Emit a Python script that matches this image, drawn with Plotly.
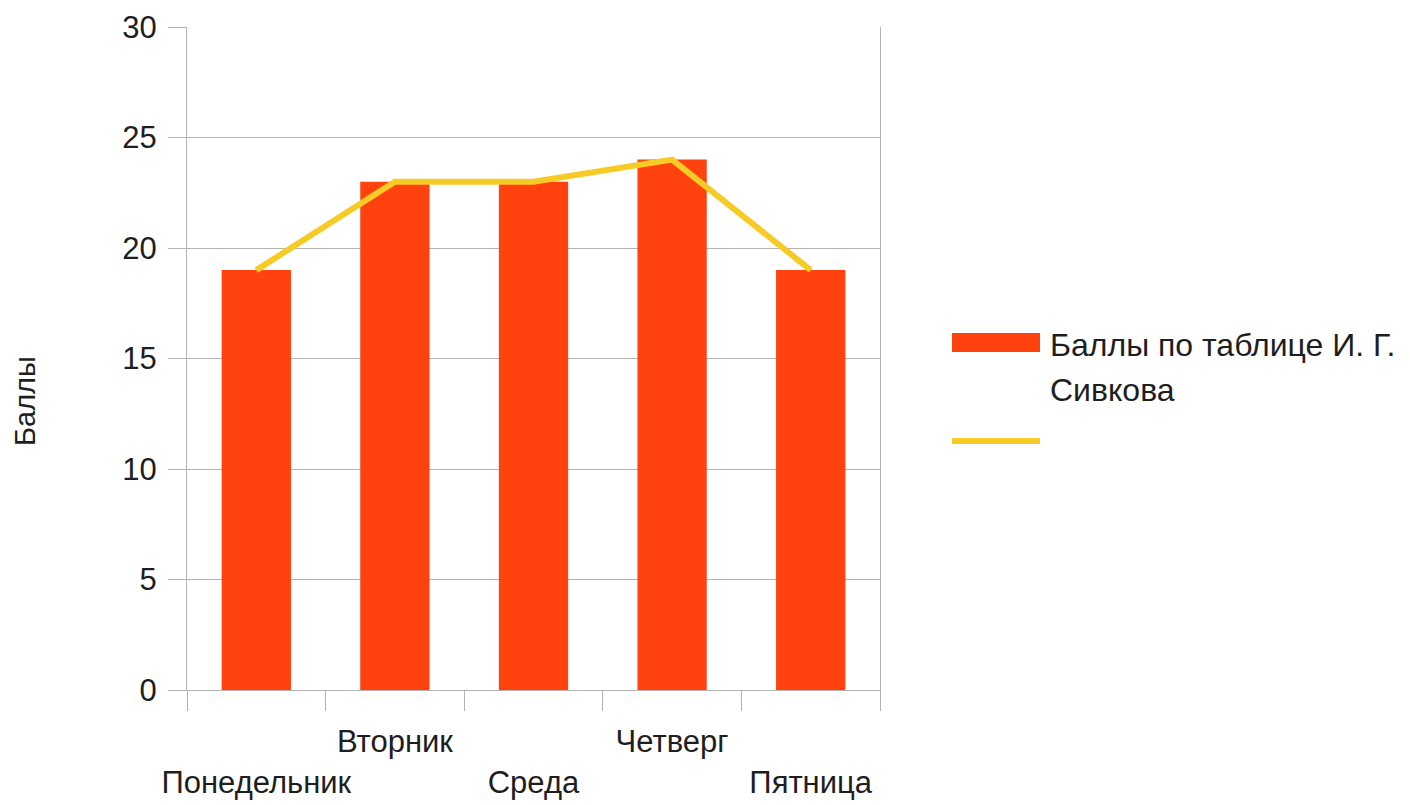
import plotly.graph_objects as go

# Days of the week and score values
days = ["Понедельник", "Вторник", "Среда", "Четверг", "Пятница"]
scores = [19, 23, 23, 24, 19]
trend = [19, 23, 23, 24, 19]
legend_lines = ["Баллы по таблице И. Г.", "Сивкова"]
y_ticks = [0, 5, 10, 15, 20, 25, 30]

BAR_COLOR = "#FF420E"
LINE_COLOR = "#F7CB25"
TEXT_COLOR = "#1E1E1E"
GRID_COLOR = "#B3B3B3"
FONT = "Liberation Sans, Arial, sans-serif"

W, H = 1410, 805
L, R, T, B = 187, 530, 27, 115
plot_w = W - L - R
plot_h = H - T - B

# Staggered category labels: every second label sits on a lower row
tick_text = [d if i % 2 else "<br>" + d for i, d in enumerate(days)]

fig = go.Figure()
fig.add_trace(go.Bar(
    x=days, y=scores, width=0.5, marker=dict(color=BAR_COLOR, line=dict(width=0)),
    name=" ".join(legend_lines), showlegend=False,
))
fig.add_trace(go.Scatter(
    x=days, y=trend, mode="lines", line=dict(color=LINE_COLOR, width=6),
    name="", showlegend=False,
))

def px_to_paper_x(px):
    return (px - L) / plot_w

def px_to_paper_y(py):
    return (H - B - py) / plot_h

# Legend drawn beside the plot
shapes = [
    dict(type="rect", xref="paper", yref="paper",
         x0=px_to_paper_x(952), x1=px_to_paper_x(1040),
         y0=px_to_paper_y(352), y1=px_to_paper_y(333),
         fillcolor=BAR_COLOR, line=dict(width=0)),
    dict(type="line", xref="paper", yref="paper",
         x0=px_to_paper_x(952), x1=px_to_paper_x(1040),
         y0=px_to_paper_y(441), y1=px_to_paper_y(441),
         line=dict(color=LINE_COLOR, width=6)),
]
annotations = [
    dict(xref="paper", yref="paper", x=px_to_paper_x(1048), y=px_to_paper_y(yc),
         xanchor="left", yanchor="middle", align="left", showarrow=False,
         text=t, font=dict(size=32, color=TEXT_COLOR, family=FONT))
    for t, yc in zip(legend_lines, [345, 390])
]
# Vertical axis title, centred on the figure height
annotations.append(dict(
    xref="paper", yref="paper", x=px_to_paper_x(25), y=px_to_paper_y(401),
    xanchor="center", yanchor="middle", textangle=-90, showarrow=False,
    text="Баллы", font=dict(size=29, color=TEXT_COLOR, family=FONT),
))

fig.update_layout(
    width=W, height=H,
    margin=dict(l=L, r=R, t=T, b=B),
    paper_bgcolor="white", plot_bgcolor="white",
    font=dict(family=FONT, size=31, color=TEXT_COLOR),
    shapes=shapes, annotations=annotations,
    xaxis=dict(
        type="category", tickvals=days, ticktext=tick_text, tickangle=0,
        tickson="boundaries", ticks="outside", ticklen=20, tickcolor=GRID_COLOR,
        ticklabelstandoff=24,
        showgrid=False, showline=True, linecolor=GRID_COLOR, linewidth=1,
        range=[-0.5, 4.5], automargin=False,
        tickfont=dict(size=31, color=TEXT_COLOR),
    ),
    yaxis=dict(
        range=[0, 30], tickvals=y_ticks, ticks="outside", ticklen=18,
        ticklabelstandoff=5,
        tickcolor=GRID_COLOR, showgrid=True, gridcolor=GRID_COLOR, gridwidth=1,
        showline=True, mirror=True, linecolor=GRID_COLOR, linewidth=1,
        zeroline=False, automargin=False,
        tickfont=dict(size=31, color=TEXT_COLOR),
    ),
)

fig.write_html("out.html")
